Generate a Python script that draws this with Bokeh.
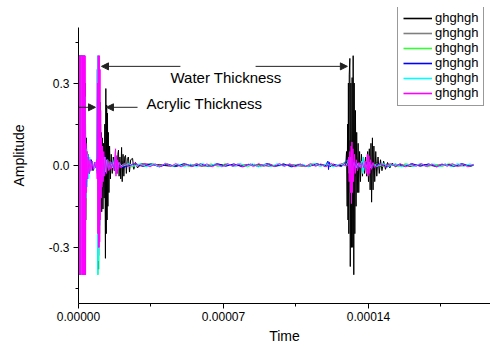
from bokeh.plotting import figure
from bokeh.models import (Range1d, FixedTicker, Legend, LegendItem, Arrow, NormalHead, Label)
from bokeh.embed import file_html
from bokeh.resources import INLINE

# ---------------- data (time in microseconds, amplitude) ----------------
series_names = ["ghghgh", "ghghgh", "ghghgh", "ghghgh", "ghghgh", "ghghgh"]
series_colors = ["#000000", "#7f7f7f", "#33ff33", "#0000ff", "#00ffff", "#ff00ff"]

x_ticks = [0.0, 7e-05, 0.00014]
x_minor = [3.5e-05, 0.000105, 0.000175]
x_tick_labels = ["0.00000", "0.00007", "0.00014"]
y_ticks = [-0.3, 0.0, 0.3]
y_minor = [-0.45, -0.15, 0.15, 0.45]
y_tick_labels = ["-0.3", "0.0", "0.3"]

black = [(0.0,0.0),(0.1,0.40),(0.3,-0.40),(0.5,0.40),(0.7,-0.40),(0.9,0.40),(1.1,-0.40),(1.3,0.40),(1.5,-0.40),(1.7,0.40),(1.9,-0.40),(2.1,0.40),(2.3,-0.40),(2.6,0.40),(2.9,-0.40),(3.2,0.30),(3.5,-0.20),(3.8,0.10),(4.2,-0.06),(4.6,0.04),(5.2,-0.03),(6.0,0.02),(7.0,-0.02),(8.0,0.01),(9.0,-0.02),(9.4,0.10),(9.8,-0.08),(10.2,0.18),(10.4,0.23),(10.6,-0.12),(10.9,0.12),(11.2,-0.17),(11.5,0.10),(11.8,-0.16),(12.1,0.08),(12.4,-0.12),(12.7,0.15),(13.0,-0.34),(13.2,0.28),(13.4,-0.25),(13.6,0.22),(13.8,-0.20),(14.0,0.19),(14.2,-0.15),(14.4,0.12),(14.7,-0.10),(15.0,0.07),(15.4,-0.05),(15.8,0.04),(16.3,-0.03),(16.8,0.03),(17.4,-0.02),(18.0,0.02),(18.6,-0.03),(19.0,0.04),(19.3,0.055),(19.6,-0.04),(20.0,0.03),(20.4,-0.05),(20.8,0.065),(21.1,-0.06),(21.5,0.04),(21.9,-0.04),(22.3,0.03),(22.7,0.036),(23.1,-0.03),(23.6,0.025),(24.1,0.03),(24.6,-0.025),(25.2,0.02),(26.1,0.025),(26.7,-0.015),(27.5,0.01),(28.5,-0.01),(30.0,0.005),
         (36.0,0.003),(44.0,-0.003),(52.0,0.002),(60.0,-0.003),(68.0,0.003),(76.0,-0.002),(84.0,0.003),(92.0,-0.003),(100.0,0.002),(108.0,-0.003),(116.0,0.003),(124.0,-0.002),(129.0,0.0),
         (129.4,0.05),(129.7,-0.15),(129.9,0.15),(130.1,-0.20),(130.3,0.30),(130.5,-0.25),(130.7,0.33),(131.0,0.39),(131.2,-0.37),(131.5,0.30),(131.8,-0.30),(132.1,0.32),(132.4,-0.30),(132.6,0.40),(132.9,-0.40),(133.1,0.30),(133.4,-0.25),(133.7,0.20),(134.0,-0.15),(134.3,0.12),(134.6,-0.10),(135.0,0.08),(135.3,-0.10),(135.7,0.05),(136.1,-0.06),(136.6,0.04),(137.1,-0.04),(137.6,0.03),(138.1,-0.03),(138.6,0.03),(139.1,-0.04),(139.6,0.05),(140.0,-0.06),(140.4,0.06),(140.8,-0.09),(141.2,0.08),(141.5,-0.135),(141.9,0.10),(142.2,-0.09),(142.6,0.07),(143.0,-0.06),(143.5,0.05),(144.0,-0.04),(144.6,0.03),(145.2,-0.03),(145.8,0.02),(146.5,-0.02),(147.3,0.015),(148.2,-0.015),(149.2,0.01),(150.3,-0.01),(151.5,0.008),(153.0,-0.006),(155.0,0.004),
         (160.0,-0.004),(166.0,0.003),(172.0,-0.003),(178.0,0.003),(184.0,-0.002),(190.7,0.0)]

gray = [(0.0,0.0),(0.2,0.40),(0.4,-0.40),(0.6,0.40),(0.8,-0.40),(1.0,0.40),(1.2,-0.40),(1.4,0.40),(1.6,-0.40),(1.8,0.40),(2.0,-0.40),(2.2,0.40),(2.5,-0.40),(2.8,0.35),(3.1,-0.25),(3.4,0.15),(3.8,-0.08),(4.3,0.05),(5.0,-0.03),(6.0,0.02),(7.5,-0.015),(9.0,0.02),(9.5,-0.15),(9.9,0.20),(10.3,-0.15),(10.7,0.15),(11.1,-0.12),(11.6,0.08),(12.1,-0.08),(12.6,0.06),(13.1,-0.05),(13.6,0.04),(14.2,-0.03),(15.0,0.02),(16.0,-0.015),(17.5,0.02),(18.5,-0.02),(19.4,0.02),(20.2,-0.02),(21.0,0.015),(22.0,-0.01),(24.0,0.008),(26.0,-0.006),(28.0,0.005),(31.0,-0.004),
        (39.0,0.003),(47.0,-0.003),(55.0,0.002),(63.0,-0.003),(71.0,0.003),(79.0,-0.002),(87.0,0.003),(95.0,-0.003),(103.0,0.002),(111.0,-0.003),(119.0,0.003),(127.0,-0.002),(129.6,0.0),
        (130.0,0.05),(130.4,-0.07),(130.8,0.09),(131.2,-0.10),(131.6,0.08),(132.0,-0.09),(132.4,0.07),(132.8,-0.08),(133.2,0.05),(133.7,-0.04),(134.3,0.03),(135.0,-0.02),(136.0,0.015),(137.5,-0.01),(139.0,0.01),(140.0,-0.02),(140.8,0.02),(141.4,-0.03),(142.0,0.02),(142.8,-0.015),(144.0,0.01),(146.0,-0.006),(149.0,0.004),(154.0,-0.003),
        (161.0,0.003),(168.0,-0.003),(175.0,0.003),(182.0,-0.002),(190.7,0.0)]

green = [(0.0,0.0),(0.15,-0.40),(0.35,0.40),(0.55,-0.40),(0.75,0.40),(0.95,-0.40),(1.15,0.40),(1.35,-0.40),(1.55,0.40),(1.75,-0.40),(1.95,0.40),(2.15,-0.40),(2.35,0.40),(2.55,-0.40),(2.75,0.40),(2.95,-0.40),(3.2,0.20),(3.5,-0.10),(3.9,0.06),(4.3,-0.05),(4.8,0.03),(5.4,-0.025),(6.2,0.015),(7.2,-0.012),(8.2,0.01),(9.0,-0.02),(9.2,0.38),(9.4,-0.40),(9.6,0.36),(9.8,-0.38),(10.0,0.28),(10.2,-0.25),(10.4,0.18),(10.6,-0.14),(10.9,0.09),(11.2,-0.07),(11.6,0.05),(12.0,-0.04),(12.6,0.03),(13.3,-0.025),(14.1,0.02),(15.0,-0.015),(16.0,0.01),(17.0,-0.012),(17.6,0.025),(18.0,-0.025),(18.5,0.015),(19.2,-0.01),
         (22.0,0.005),(25.5,-0.006),(29.0,0.004),(32.5,-0.005),(36.0,0.006),(39.5,-0.004),(43.0,0.005),(46.5,-0.006),(50.0,0.004),(53.5,-0.005),(57.0,0.006),(60.5,-0.004),(64.0,0.005),(67.5,-0.005),(71.0,0.006),(74.5,-0.004),(78.0,0.005),(81.5,-0.006),(85.0,0.004),(88.5,-0.005),(92.0,0.006),(95.5,-0.004),(99.0,0.005),(102.5,-0.006),(106.0,0.004),(109.5,-0.005),(113.0,0.006),(116.5,-0.004),(120.0,0.005),(123.5,-0.005),(127.0,0.004),
         (130.2,0.02),(130.7,-0.03),(131.2,0.025),(131.7,-0.03),(132.2,0.02),(132.8,-0.015),(133.5,0.01),(134.5,-0.008),(136.0,0.006),(137.5,-0.008),(138.5,0.01),(139.5,-0.012),(140.5,0.01),(141.5,-0.008),
         (144.0,0.005),(147.5,-0.006),(151.0,0.004),(154.5,-0.005),(158.0,0.006),(161.5,-0.004),(165.0,0.005),(168.5,-0.006),(172.0,0.004),(175.5,-0.005),(179.0,0.006),(182.5,-0.004),(186.0,0.005),(189.5,-0.005),(190.7,0.0)]

blue = [(0.0,0.0),(0.25,0.40),(0.45,-0.40),(0.65,0.40),(0.85,-0.40),(1.05,0.40),(1.25,-0.40),(1.45,0.40),(1.65,-0.40),(1.85,0.40),(2.05,-0.40),(2.25,0.40),(2.45,-0.40),(2.65,0.40),(2.85,-0.40),(3.1,0.22),(3.4,-0.12),(3.8,0.07),(4.2,-0.05),(4.7,0.03),(5.3,-0.03),(6.0,0.02),(7.0,-0.015),(8.0,0.01),(8.9,-0.02),(9.1,0.35),(9.3,-0.38),(9.5,0.38),(9.7,-0.33),(9.9,0.30),(10.1,-0.25),(10.3,0.20),(10.5,-0.15),(10.8,0.10),(11.1,-0.08),(11.5,0.06),(11.9,-0.05),(12.4,0.035),(13.0,-0.03),(13.8,0.02),(14.7,-0.015),(15.7,0.01),(16.8,-0.01),(17.5,0.03),(17.9,-0.03),(18.4,0.02),(19.0,-0.01),
        (23.0,-0.005),(27.0,0.006),(31.0,-0.004),(35.0,0.005),(39.0,-0.006),(43.0,0.004),(47.0,-0.005),(51.0,0.006),(55.0,-0.004),(59.0,0.005),(63.0,-0.005),(67.0,0.006),(71.0,-0.004),(75.0,0.005),(79.0,-0.006),(83.0,0.004),(87.0,-0.005),(91.0,0.006),(95.0,-0.004),(99.0,0.005),(103.0,-0.006),(107.0,0.004),(111.0,-0.005),(115.0,0.006),(119.0,-0.004),(120.4,0.015),(120.7,-0.016),(121.0,0.012),(121.4,-0.006),(123.0,0.004),(127.0,-0.005),
        (130.4,0.025),(130.9,-0.035),(131.4,0.03),(131.9,-0.03),(132.4,0.02),(133.0,-0.015),(133.8,0.01),(135.0,-0.008),(136.5,0.006),(138.0,-0.006),(139.0,0.01),(140.0,-0.012),(141.0,0.01),(142.0,-0.006),
        (145.0,0.005),(149.0,-0.006),(153.0,0.004),(157.0,-0.005),(161.0,0.006),(165.0,-0.004),(169.0,0.005),(173.0,-0.006),(177.0,0.004),(181.0,-0.005),(185.0,0.006),(189.0,-0.004),(190.7,0.0)]

cyan = [(0.0,0.40),(0.2,-0.40),(0.4,0.40),(0.6,-0.40),(0.8,0.40),(1.0,-0.40),(1.2,0.40),(1.4,-0.40),(1.6,0.40),(1.8,-0.40),(2.0,0.40),(2.2,-0.40),(2.4,0.40),(2.6,-0.40),(2.8,0.40),(3.0,-0.40),(3.3,0.25),(3.6,-0.12),(3.9,0.06),(4.2,-0.08),(4.5,0.04),(4.9,-0.05),(5.4,0.03),(6.0,-0.02),(6.8,0.015),(7.6,-0.012),(8.4,0.01),(9.0,-0.03),(9.15,0.40),(9.3,-0.40),(9.45,0.40),(9.6,-0.35),(9.75,0.38),(9.9,-0.30),(10.1,0.30),(10.3,-0.22),(10.5,0.18),(10.7,-0.12),(10.9,0.08),(11.2,-0.06),(11.5,0.05),(11.9,-0.04),(12.4,0.03),(13.0,-0.025),(13.7,0.02),(14.5,-0.015),(15.4,0.012),(16.5,-0.01),(17.5,0.03),(17.9,-0.03),(18.3,0.02),(18.8,-0.015),(19.5,0.01),
        (21.0,-0.005),(24.0,0.006),(27.0,-0.004),(30.0,0.006),(33.0,-0.006),(36.0,0.004),(39.0,-0.005),(42.0,0.006),(45.0,-0.004),(48.0,0.005),(51.0,-0.006),(54.0,0.004),(57.0,-0.005),(60.0,0.006),(63.0,-0.004),(66.0,0.005),(69.0,-0.006),(72.0,0.004),(75.0,-0.005),(78.0,0.006),(81.0,-0.004),(84.0,0.005),(87.0,-0.006),(90.0,0.004),(93.0,-0.005),(96.0,0.006),(99.0,-0.004),(102.0,0.005),(105.0,-0.006),(108.0,0.004),(111.0,-0.005),(114.0,0.006),(117.0,-0.004),(120.0,0.005),(123.0,-0.006),(126.0,0.004),(129.0,-0.003),
        (130.5,0.02),(131.0,-0.03),(131.5,0.03),(132.0,-0.02),(133.0,0.01),(134.0,-0.01),(135.0,0.008),(136.0,-0.008),(136.8,0.015),(137.1,-0.03),(137.4,0.03),(137.7,-0.02),(138.2,0.01),(139.0,-0.01),(140.0,0.012),(141.0,-0.01),(142.0,0.006),
        (144.0,-0.005),(147.0,0.006),(150.0,-0.004),(153.0,0.005),(156.0,-0.006),(159.0,0.004),(162.0,-0.005),(165.0,0.006),(168.0,-0.004),(171.0,0.005),(174.0,-0.006),(177.0,0.004),(180.0,-0.005),(183.0,0.006),(186.0,-0.004),(189.0,0.005),(190.7,0.0)]

magenta = [(0.0,-0.40),(0.15,0.40),(0.3,-0.40),(0.45,0.40),(0.6,-0.40),(0.75,0.40),(0.9,-0.40),(1.05,0.40),(1.2,-0.40),(1.3,0.40),(1.7,0.40),(1.85,-0.40),(2.0,0.40),(2.15,-0.40),(2.3,0.40),(2.45,-0.40),(2.6,0.40),(2.75,-0.40),(2.9,0.40),(3.05,-0.40),(3.2,0.40),(3.4,-0.40),(3.6,0.08),(3.8,-0.10),(4.0,0.05),(4.3,-0.05),(4.6,0.03),(5.0,-0.03),(5.5,0.02),(6.0,-0.02),(6.6,0.015),(7.2,-0.015),(7.8,0.01),(8.3,-0.01),(8.7,0.02),(9.0,-0.05),(9.2,0.30),(9.35,-0.25),(9.5,0.40),(9.65,-0.30),(9.8,0.40),(9.95,-0.30),(10.1,0.40),(10.25,-0.28),(10.4,0.35),(10.55,-0.20),(10.7,0.20),(10.9,-0.12),(11.1,0.10),(11.3,-0.08),(11.6,0.07),(11.9,-0.06),(12.2,0.05),(12.6,-0.04),(13.0,0.03),(13.5,-0.03),(14.0,0.02),(14.6,-0.02),(15.2,0.015),(15.8,-0.015),(16.5,0.01),(17.2,-0.02),(17.6,0.04),(17.9,0.06),(18.1,-0.04),(18.3,0.035),(18.6,-0.03),(18.9,0.02),(19.3,-0.015),(19.8,0.01),(20.5,-0.01),
           (22.0,0.006),(24.5,-0.005),(27.0,0.007),(29.5,-0.004),(32.0,0.006),(34.5,-0.006),(37.0,0.005),(39.5,-0.005),(42.0,0.007),(44.5,-0.004),(47.0,0.006),(49.5,-0.006),(52.0,0.004),(54.5,-0.005),(57.0,0.006),(59.5,-0.004),(62.0,0.005),(64.5,-0.006),(67.0,0.004),(69.5,-0.005),(72.0,0.006),(74.5,-0.004),(77.0,0.005),(79.5,-0.006),(82.0,0.004),(84.5,-0.005),(87.0,0.006),(89.5,-0.004),(92.0,0.005),(94.5,-0.005),(97.0,0.006),(99.5,-0.004),(102.0,0.005),(104.5,-0.006),(107.0,0.004),(109.5,-0.005),(112.0,0.006),(114.5,-0.004),(117.0,0.005),(119.5,-0.006),(122.0,0.007),(124.5,-0.005),(127.0,0.006),(129.5,-0.004),
           (130.0,0.0),(130.4,0.03),(130.7,-0.06),(131.0,0.05),(131.3,-0.10),(131.6,0.07),(131.8,-0.14),(132.0,0.085),(132.2,-0.10),(132.5,0.06),(132.8,-0.06),(133.2,0.04),(133.6,-0.03),(134.1,0.02),(134.7,-0.02),(135.4,0.01),(136.2,-0.01),(137.0,0.01),(137.8,-0.01),(138.5,0.015),(139.0,-0.03),(139.4,0.04),(139.8,-0.04),(140.2,0.035),(140.6,-0.03),(141.0,0.02),(141.5,-0.015),(142.2,0.01),
           (143.0,-0.008),(145.5,0.006),(148.0,-0.005),(150.5,0.006),(153.0,-0.004),(155.5,0.005),(158.0,-0.006),(160.5,0.005),(163.0,-0.004),(165.5,0.006),(168.0,-0.005),(170.5,0.004),(173.0,-0.006),(175.5,0.005),(178.0,-0.004),(180.5,0.006),(183.0,-0.005),(185.5,0.004),(188.0,-0.006),(190.7,0.003)]

all_series = [black, gray, green, blue, cyan, magenta]
draw_order = [1, 0, 2, 3, 4, 5]   # gray underneath black

FONT = "Liberation Sans"
Y_AXIS_MIN, Y_AXIS_MAX = -0.505, 0.503

# frame extends above the y axis top so the legend (which sits higher) is not clipped
p = figure(frame_width=412, frame_height=296, output_backend="svg", toolbar_location=None,
           x_range=Range1d(0.0, 1.989e-4), y_range=Range1d(Y_AXIS_MIN, 0.576),
           min_border_left=78, min_border_right=0, min_border_top=7, min_border_bottom=30,
           background_fill_color="white", border_fill_color="white")
p.outline_line_color = None
p.xgrid.visible = False
p.ygrid.visible = False

for i in draw_order:
    ser = all_series[i]
    t = [pt[0] * 1e-6 for pt in ser]
    a = [pt[1] for pt in ser]
    p.line(t, a, line_color=series_colors[i], line_width=1)

# legend swatches: non-drawing line renderers (a single NaN point), slightly heavier
nan = float("nan")
items = []
for i in range(6):
    sw = p.line([nan], [nan], line_color=series_colors[i], line_width=1.6)
    items.append(LegendItem(label=series_names[i], renderers=[sw]))

legend = Legend(items=items, location=(319, 197), glyph_width=29, glyph_height=14,
                label_height=14, label_standoff=3, padding=5, spacing=0, margin=0,
                border_line_color="#333333", border_line_width=1,
                background_fill_color="white", background_fill_alpha=1.0,
                label_text_font=FONT, label_text_font_size="13px", label_text_color="black")
p.add_layout(legend, "center")

# axes
p.xaxis.ticker = FixedTicker(ticks=x_ticks, minor_ticks=x_minor)
p.xaxis.major_label_overrides = dict(zip(x_ticks, x_tick_labels))
p.yaxis.ticker = FixedTicker(ticks=y_ticks, minor_ticks=y_minor)
p.yaxis.major_label_overrides = dict(zip(y_ticks, y_tick_labels))
p.yaxis.bounds = (Y_AXIS_MIN, Y_AXIS_MAX)
for ax in (p.xaxis, p.yaxis):
    ax.axis_line_color = "black"
    ax.major_tick_line_color = "black"
    ax.minor_tick_line_color = "black"
    ax.major_tick_in = 0
    ax.major_tick_out = 5
    ax.minor_tick_in = 0
    ax.minor_tick_out = 3
    ax.major_label_text_font = FONT
    ax.major_label_text_font_size = "12px"
    ax.major_label_text_color = "black"
    ax.axis_label_text_font = FONT
    ax.axis_label_text_font_size = "14px"
    ax.axis_label_text_font_style = "normal"
    ax.axis_label_text_color = "black"
p.xaxis.axis_label = "Time"
p.yaxis.axis_label = "Amplitude"
p.xaxis.major_label_standoff = 3
p.yaxis.major_label_standoff = 4
p.xaxis.axis_label_standoff = 4
p.yaxis.axis_label_standoff = 19

# annotations
arrow_color = "#222222"
def add_arrow(x0, y0, x1, y1):
    p.add_layout(Arrow(end=NormalHead(size=7, fill_color=arrow_color, line_color=arrow_color),
                       x_start=x0, y_start=y0, x_end=x1, y_end=y1,
                       line_color=arrow_color, line_width=1))

add_arrow(4.92e-5, 0.361, 1.11e-5, 0.361)
add_arrow(8.55e-5, 0.361, 1.298e-4, 0.361)
add_arrow(-7.7e-6, 0.2115, 8.2e-6, 0.2115)
add_arrow(2.85e-5, 0.2115, 1.35e-5, 0.2115)

p.add_layout(Label(x=4.44e-5, y=0.321, text="Water Thickness", text_font=FONT,
                   text_font_size="15px", text_baseline="middle", text_color="black"))
p.add_layout(Label(x=3.28e-5, y=0.226, text="Acrylic Thickness", text_font=FONT,
                   text_font_size="15px", text_baseline="middle", text_color="black"))

open("out.html", "w").write(file_html(p, INLINE))
